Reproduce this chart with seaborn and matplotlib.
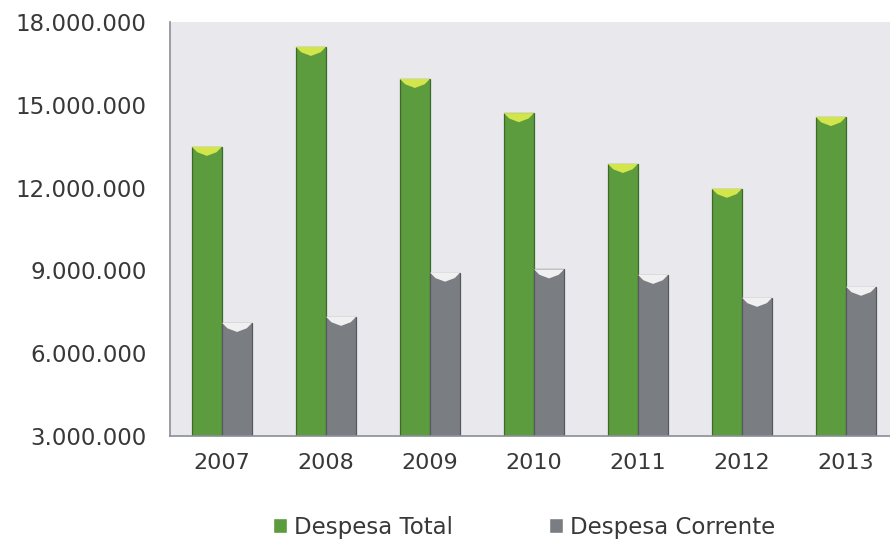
import matplotlib
matplotlib.use("Agg")
import matplotlib.pyplot as plt
from matplotlib.patches import Polygon
import seaborn as sns
import pandas as pd

anos = ["2007", "2008", "2009", "2010", "2011", "2012", "2013"]
despesa_total = [13480000, 17100000, 15940000, 14700000, 12860000, 11960000, 14560000]
despesa_corrente = [7100000, 7320000, 8920000, 9040000, 8840000, 8010000, 8410000]
series = ["Despesa Total", "Despesa Corrente"]
yticks = [3000000, 6000000, 9000000, 12000000, 15000000, 18000000]

df = pd.DataFrame({
    "Ano": anos * 2,
    "Série": [series[0]] * len(anos) + [series[1]] * len(anos),
    "Valor": despesa_total + despesa_corrente,
})

sns.set_style("white")
plt.rcParams["font.family"] = ["DejaVu Sans"]

fig = plt.figure(figsize=(8.9, 5.45), dpi=100)
fig.patch.set_facecolor("white")
ax = fig.add_axes([170 / 890, 109 / 545, 728 / 890, 414 / 545])
ax.set_facecolor("#e8e8ed")

palette = {"Despesa Total": "#5c9b3e", "Despesa Corrente": "#7a7d81"}
sns.barplot(data=df, x="Ano", y="Valor", hue="Série", palette=palette,
            width=0.58, saturation=1, ax=ax, legend=True)

ax.set_ylim(3000000, 18000000)
ax.set_xlim(-0.5, 6.5)

# bevelled caps on top of each bar
caps = {"Despesa Total": "#d2e64c", "Despesa Corrente": "#f0f0f0"}
edge_cols = {"Despesa Total": "#3d6a28", "Despesa Corrente": "#55585c"}
for container, name in zip(ax.containers, series):
    for p in container.patches:
        p.set_edgecolor(edge_cols[name])
        p.set_linewidth(0.9)
        x0 = p.get_x()
        w = p.get_width()
        top = p.get_y() + p.get_height()
        d = 330000
        poly = Polygon([(x0, top), (x0 + w, top), (x0 + w * 0.82, top - d * 0.6),
                        (x0 + w * 0.5, top - d), (x0 + w * 0.18, top - d * 0.6)],
                       closed=True, facecolor=caps[name], edgecolor="none", zorder=3)
        ax.add_patch(poly)

ax.set_yticks(yticks)
ax.set_yticklabels([f"{v:,}".replace(",", ".") for v in yticks])
ax.set_xlabel("")
ax.set_ylabel("")

# category separators on the x axis
ax.set_xticks([i + 0.5 for i in range(len(anos) - 1)], minor=True)
ax.tick_params(axis="x", which="minor", length=7, width=1, color="#8a8e98", direction="out")
ax.tick_params(axis="x", which="major", length=0, pad=12, labelsize=16, labelcolor="#383838")
ax.tick_params(axis="y", which="major", length=9, width=1, color="#8a8e98", direction="out",
               pad=8, labelsize=16.5, labelcolor="#383838")

for s in ["top", "right"]:
    ax.spines[s].set_visible(False)
for s in ["left", "bottom"]:
    ax.spines[s].set_color("#8a8e98")
    ax.spines[s].set_linewidth(1.2)

handles, labels = ax.get_legend_handles_labels()
ax.legend_.remove()
fig.legend(handles, labels, loc="center", bbox_to_anchor=(0.589, 0.033), ncol=2,
           frameon=False, fontsize=16.5, handlelength=0.6, handleheight=0.6,
           handletextpad=0.3, columnspacing=4.2, labelcolor="#383838")

fig.savefig("out.png", dpi=100, facecolor="white")
